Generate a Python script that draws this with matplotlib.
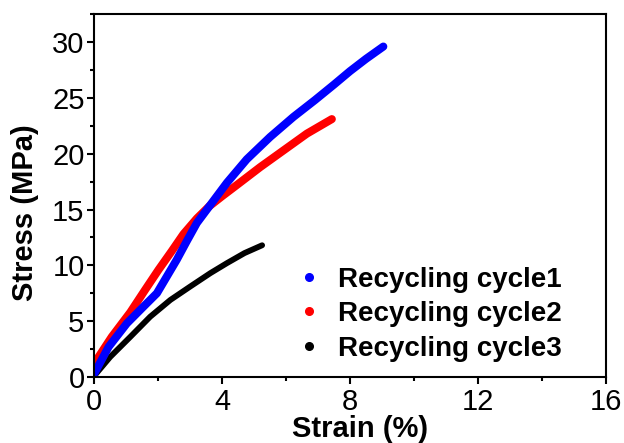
import numpy as np
import matplotlib
matplotlib.use("Agg")
import matplotlib.pyplot as plt
from matplotlib.lines import Line2D
from matplotlib.ticker import MultipleLocator

plt.rcParams['font.family'] = ['Liberation Sans', 'DejaVu Sans']

# strain (%) / stress (MPa)
strain1 = [0, 0.45, 1.02, 1.54, 1.96, 2.27, 2.58, 2.9, 3.21, 3.68, 4.15, 4.77, 5.5,
           6.23, 6.9, 7.5, 8.0, 8.5, 9.04]
stress1 = [0.3, 2.7, 4.8, 6.3, 7.5, 9.0, 10.5, 12.2, 13.8, 15.6, 17.4, 19.5, 21.5,
           23.3, 24.8, 26.2, 27.4, 28.5, 29.6]

strain2 = [0, 0.55, 1.13, 1.59, 2.01, 2.43, 2.79, 3.21, 3.6, 4.0, 4.46, 5.19, 5.92,
           6.65, 7.43]
stress2 = [1.2, 3.6, 5.8, 7.8, 9.6, 11.3, 12.8, 14.2, 15.3, 16.2, 17.2, 18.8, 20.3,
           21.8, 23.1]

strain3 = [0, 0.5, 1.13, 1.75, 2.38, 3.0, 3.63, 4.15, 4.7, 5.25]
stress3 = [0.1, 1.8, 3.6, 5.4, 6.9, 8.1, 9.3, 10.2, 11.1, 11.8]

labels = ['Recycling cycle1', 'Recycling cycle2', 'Recycling cycle3']
colors = ['#0000ff', '#ff0000', '#000000']

fig = plt.figure(figsize=(6.24, 4.43), dpi=100)
ax = fig.add_axes([0.151, 0.149, 0.820, 0.819])

ax.plot(strain3, stress3, color=colors[2], lw=4.2, solid_capstyle='round', solid_joinstyle='round')
ax.plot(strain2, stress2, color=colors[1], lw=5.8, solid_capstyle='round', solid_joinstyle='round')
ax.plot(strain1, stress1, color=colors[0], lw=5.8, solid_capstyle='round', solid_joinstyle='round')

ax.set_xlim(0, 16)
ax.set_ylim(0, 32.5)
ax.xaxis.set_major_locator(MultipleLocator(4))
ax.xaxis.set_minor_locator(MultipleLocator(2))
ax.yaxis.set_major_locator(MultipleLocator(5))
ax.yaxis.set_minor_locator(MultipleLocator(2.5))
ax.tick_params(which='major', direction='out', length=5, width=1.5, labelsize=21, pad=2)
ax.tick_params(axis='x', which='major', pad=3)
ax.tick_params(which='minor', direction='out', length=3, width=1.5)
for s in ax.spines.values():
    s.set_linewidth(1.5)

ax.set_xlabel('Strain (%)', fontsize=21, fontweight='bold')
ax.set_ylabel('Stress (MPa)', fontsize=21, fontweight='bold')
ax.xaxis.set_label_coords(0.52, -0.105)
ax.yaxis.set_label_coords(-0.107, 0.452)

handles = [Line2D([], [], ls='none', marker='o', markersize=5.5, color=c) for c in colors]
ax.legend(handles, labels, loc='lower right', bbox_to_anchor=(0.935, 0.012), borderaxespad=0,
          frameon=False, prop={'size': 20, 'weight': 'bold'}, handlelength=1.2,
          handletextpad=0.45, labelspacing=0.3)

fig.savefig('out.png', dpi=100)
